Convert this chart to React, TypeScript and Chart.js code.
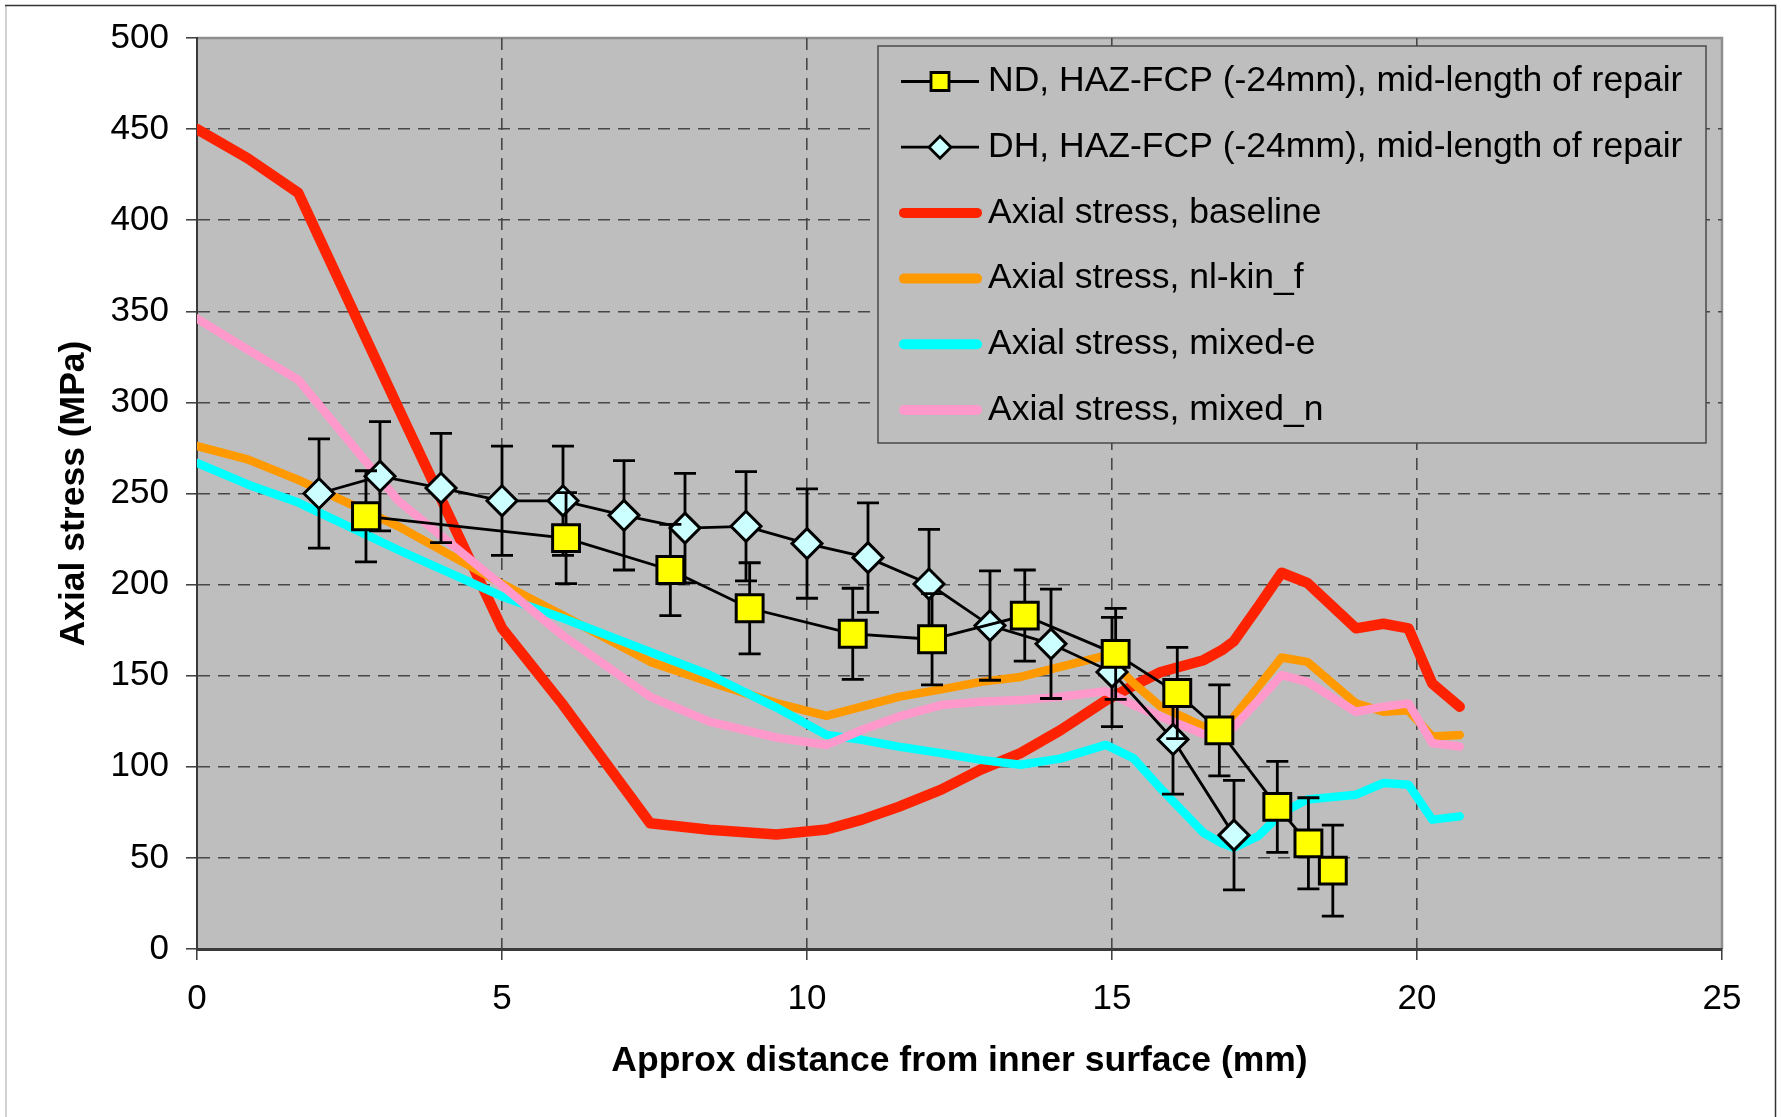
import React, { useEffect, useRef } from "react";
import { Chart, registerables } from "chart.js";

Chart.register(...registerables);

const FONT = '"Liberation Sans", Arial, Helvetica, sans-serif';

// ---- Data ----
const legendLabels = [
  "ND, HAZ-FCP (-24mm), mid-length of repair",
  "DH, HAZ-FCP (-24mm), mid-length of repair",
  "Axial stress, baseline",
  "Axial stress, nl-kin_f",
  "Axial stress, mixed-e",
  "Axial stress, mixed_n",
];

const xTicks = [0, 5, 10, 15, 20, 25];
const yTicks = [0, 50, 100, 150, 200, 250, 300, 350, 400, 450, 500];

const ndX = [2.77, 6.05, 7.76, 9.06, 10.75, 12.05, 13.57, 15.06, 16.07, 16.76, 17.71, 18.22, 18.62];
const ndY = [237.5, 225.5, 208, 187, 173, 170, 183, 162, 140.5, 120, 78, 58, 43];
const ndErr = [25, 25, 25, 25, 25, 25, 25, 25, 25, 25, 25, 25, 25];

const dhX = [2, 3, 4, 5, 6, 7, 8, 9, 10, 11, 12, 13, 14, 15, 16, 17];
const dhY = [250, 259.5, 253, 246, 246, 238, 231, 232, 222.5, 214.8, 200.3, 177.5, 167.5, 152, 115, 62.5];
const dhErr = [30, 30, 30, 30, 30, 30, 30, 30, 30, 30, 30, 30, 30, 30, 30, 30];

const modelX = [0, 0.83, 1.66, 3.3, 5.0, 6.0, 7.43, 8.4, 9.5, 10.32, 10.9, 11.5, 12.2, 12.85, 13.5, 14.15, 14.9, 15.35, 15.8, 16.5, 16.8, 17.0, 17.4, 17.78, 18.2, 19.0, 19.45, 19.86, 20.25, 20.7];
const baselineY = [450, 434, 415, 297, 176, 134, 69, 65.5, 62.8, 65.6, 71, 78, 87.5, 98.5, 107.5, 120, 136.5, 144.5, 152, 158.5, 164, 169, 188, 206.5, 201, 176, 178.5, 176, 145.7, 133];
const nlKinY = [276, 268.7, 257.5, 232, 200.4, 183, 157.6, 146.6, 135, 128, 133, 138.4, 142.5, 146.6, 149.3, 154.8, 161, 146, 133, 122, 118, 127.5, 144, 160, 157.6, 134.8, 130.2, 131, 116.6, 117.5];
const mixedEY = [266.8, 255, 245, 219, 193.5, 181.5, 163, 150.5, 132.5, 117.5, 114.8, 111.1, 107.5, 103.8, 101.1, 104.5, 112, 104.8, 88, 63.8, 58, 55.6, 62, 74.7, 82, 84.7, 91.1, 90.2, 71, 72.8];
const mixedNY = [346, 329, 312.4, 246, 199.5, 172, 138.4, 124.8, 116, 112, 120.2, 127.5, 133.9, 135.7, 136.6, 138.4, 141.5, 134, 127.5, 118, 116, 122, 136.5, 150.3, 146.6, 130.2, 133, 134.8, 113, 111.1];

const xTitle = "Approx distance from inner surface (mm)";
const yTitle = "Axial stress (MPa)";

const pts = (xs: number[], ys: number[]) => xs.map((x, i) => ({ x, y: ys[i] }));

// ---- Plugins ----
const framePlugin = {
  id: "frame",
  beforeDraw(chart: any) {
    const { ctx, chartArea: a, width, height } = chart;
    ctx.save();
    ctx.fillStyle = "#ffffff";
    ctx.fillRect(0, 0, width, height);
    ctx.strokeStyle = "#d2d2d2";
    ctx.lineWidth = 2;
    ctx.beginPath();
    ctx.moveTo(6, 5);
    ctx.lineTo(6, height);
    ctx.stroke();
    ctx.strokeStyle = "#333333";
    ctx.lineWidth = 1.5;
    ctx.beginPath();
    ctx.moveTo(5, 5.5);
    ctx.lineTo(1775.5, 5.5);
    ctx.lineTo(1775.5, height);
    ctx.stroke();
    ctx.fillStyle = "#bebebe";
    ctx.fillRect(a.left, a.top, a.right - a.left, a.bottom - a.top);
    ctx.strokeStyle = "#8e8e8e";
    ctx.lineWidth = 2.5;
    ctx.beginPath();
    ctx.moveTo(a.left, a.top);
    ctx.lineTo(a.right, a.top);
    ctx.lineTo(a.right, a.bottom);
    ctx.stroke();
    ctx.restore();
  },
};

const errorBarPlugin = {
  id: "errorBars",
  beforeDatasetDraw(chart: any, args: any) {
    const ds = chart.data.datasets[args.index];
    const errs: number[] | undefined = ds.errorValues;
    if (!errs) return;
    const meta = chart.getDatasetMeta(args.index);
    const ys = chart.scales.y;
    const ctx = chart.ctx;
    ctx.save();
    ctx.strokeStyle = "#000";
    ctx.lineWidth = 2.8;
    meta.data.forEach((pt: any, i: number) => {
      const v = ds.data[i].y;
      const e = errs[i];
      const x = pt.x;
      const y1 = ys.getPixelForValue(v + e);
      const y2 = ys.getPixelForValue(v - e);
      ctx.beginPath();
      ctx.moveTo(x, y1);
      ctx.lineTo(x, y2);
      ctx.moveTo(x - 11, y1);
      ctx.lineTo(x + 11, y1);
      ctx.moveTo(x - 11, y2);
      ctx.lineTo(x + 11, y2);
      ctx.stroke();
    });
    ctx.restore();
  },
};

const boxLegendPlugin = {
  id: "boxLegend",
  afterDraw(chart: any) {
    const ctx = chart.ctx;
    const bx = 878, by = 46, bw = 828, bh = 397;
    ctx.save();
    ctx.fillStyle = "#bebebe";
    ctx.fillRect(bx, by, bw, bh);
    ctx.strokeStyle = "#4a4a4a";
    ctx.lineWidth = 1.5;
    ctx.strokeRect(bx, by, bw, bh);
    ctx.font = `35.5px ${FONT}`;
    ctx.textBaseline = "middle";
    ctx.textAlign = "left";
    chart.data.datasets.forEach((ds: any, i: number) => {
      const y = 81.5 + i * 65.7;
      if (ds.pointRadius > 0) {
        ctx.strokeStyle = "#000";
        ctx.lineWidth = 2.8;
        ctx.lineCap = "butt";
        ctx.beginPath();
        ctx.moveTo(901, y);
        ctx.lineTo(979, y);
        ctx.stroke();
        ctx.fillStyle = ds.pointBackgroundColor;
        ctx.beginPath();
        if (ds.pointStyle === "rect") {
          ctx.rect(940 - 9, y - 9, 18, 18);
        } else {
          ctx.moveTo(940 - 11, y);
          ctx.lineTo(940, y - 11);
          ctx.lineTo(940 + 11, y);
          ctx.lineTo(940, y + 11);
          ctx.closePath();
        }
        ctx.fill();
        ctx.stroke();
      } else {
        ctx.strokeStyle = ds.borderColor;
        ctx.lineWidth = 10;
        ctx.lineCap = "round";
        ctx.beginPath();
        ctx.moveTo(904, y);
        ctx.lineTo(977, y);
        ctx.stroke();
      }
      ctx.fillStyle = "#000";
      ctx.fillText(ds.label, 988, y);
    });
    ctx.restore();
  },
};

const edgeTransparent = (maxVal: number) => (c: any) =>
  c.tick && (c.tick.value === 0 || c.tick.value === maxVal) ? "rgba(0,0,0,0)" : "#474747";

const modelLine = (label: string, ys: number[], color: string, width: number, order: number) => ({
  label,
  data: pts(modelX, ys),
  showLine: true,
  borderColor: color,
  backgroundColor: color,
  borderWidth: width,
  borderJoinStyle: "round",
  borderCapStyle: "round",
  pointRadius: 0,
  pointHoverRadius: 0,
  tension: 0,
  order,
});

export default function App() {
  const ref = useRef<HTMLCanvasElement>(null);

  useEffect(() => {
    if (!ref.current) return;
    const chart = new Chart(ref.current, {
      type: "scatter",
      data: {
        datasets: [
          {
            label: legendLabels[0],
            data: pts(ndX, ndY),
            errorValues: ndErr,
            showLine: true,
            borderColor: "#000",
            borderWidth: 2.8,
            pointStyle: "rect",
            pointRadius: 19,
            pointHoverRadius: 19,
            pointBackgroundColor: "#ffff00",
            pointBorderColor: "#000",
            pointBorderWidth: 3,
            tension: 0,
            order: 0,
          } as any,
          {
            label: legendLabels[1],
            data: pts(dhX, dhY),
            errorValues: dhErr,
            showLine: true,
            borderColor: "#000",
            borderWidth: 2.8,
            pointStyle: "rectRot",
            pointRadius: 15,
            pointHoverRadius: 15,
            pointBackgroundColor: "#ccffff",
            pointBorderColor: "#000",
            pointBorderWidth: 3,
            tension: 0,
            order: 1,
          } as any,
          modelLine(legendLabels[2], baselineY, "#ff2200", 10.5, 5) as any,
          modelLine(legendLabels[3], nlKinY, "#ff9900", 8.5, 4) as any,
          modelLine(legendLabels[4], mixedEY, "#00ffff", 8.5, 3) as any,
          modelLine(legendLabels[5], mixedNY, "#ff99cc", 8.5, 2) as any,
        ],
      },
      options: {
        responsive: false,
        animation: false,
        devicePixelRatio: 1,
        layout: { padding: { left: 0, right: 59, top: 35, bottom: 0 } },
        plugins: {
          legend: { display: false },
          tooltip: { enabled: false },
          title: { display: false },
        },
        scales: {
          x: {
            type: "linear",
            min: xTicks[0],
            max: xTicks[xTicks.length - 1],
            afterBuildTicks: (s: any) => {
              s.ticks = xTicks.map((v) => ({ value: v }));
            },
            ticks: {
              color: "#000",
              font: { family: FONT, size: 35 },
              padding: 18,
              maxRotation: 0,
              autoSkip: false,
            },
            grid: {
              color: edgeTransparent(xTicks[xTicks.length - 1]),
              lineWidth: 1.6,
              tickColor: "#3a3a3a",
              tickLength: 11,
              tickWidth: 1.5,
            },
            border: { display: true, color: "#3a3a3a", width: 3, dash: [12, 8] },
            title: {
              display: true,
              text: xTitle,
              color: "#000",
              font: { family: FONT, size: 35.5, weight: "bold" },
              padding: { top: 0, bottom: 34 },
            },
            afterFit: (s: any) => {
              s.height = 168;
            },
          },
          y: {
            type: "linear",
            min: yTicks[0],
            max: yTicks[yTicks.length - 1],
            afterBuildTicks: (s: any) => {
              s.ticks = yTicks.map((v) => ({ value: v }));
            },
            ticks: {
              color: "#000",
              font: { family: FONT, size: 35 },
              padding: 17,
              autoSkip: false,
            },
            grid: {
              color: edgeTransparent(yTicks[yTicks.length - 1]),
              lineWidth: 1.6,
              tickColor: "#3a3a3a",
              tickLength: 11,
              tickWidth: 1.5,
            },
            border: { display: true, color: "#3a3a3a", width: 2, dash: [12, 8] },
            title: {
              display: true,
              text: yTitle,
              color: "#000",
              font: { family: FONT, size: 35.5, weight: "bold" },
              padding: { top: 53, bottom: 0 },
            },
            afterFit: (s: any) => {
              s.width = 197;
            },
          },
        },
      } as any,
      plugins: [framePlugin, errorBarPlugin, boxLegendPlugin],
    });
    return () => chart.destroy();
  }, []);

  return (
    <div style={{ position: "fixed", left: 0, top: 0, width: 1781, height: 1117, background: "#fff" }}>
      <canvas ref={ref} width={1781} height={1117} style={{ display: "block", width: 1781, height: 1117 }} />
    </div>
  );
}
